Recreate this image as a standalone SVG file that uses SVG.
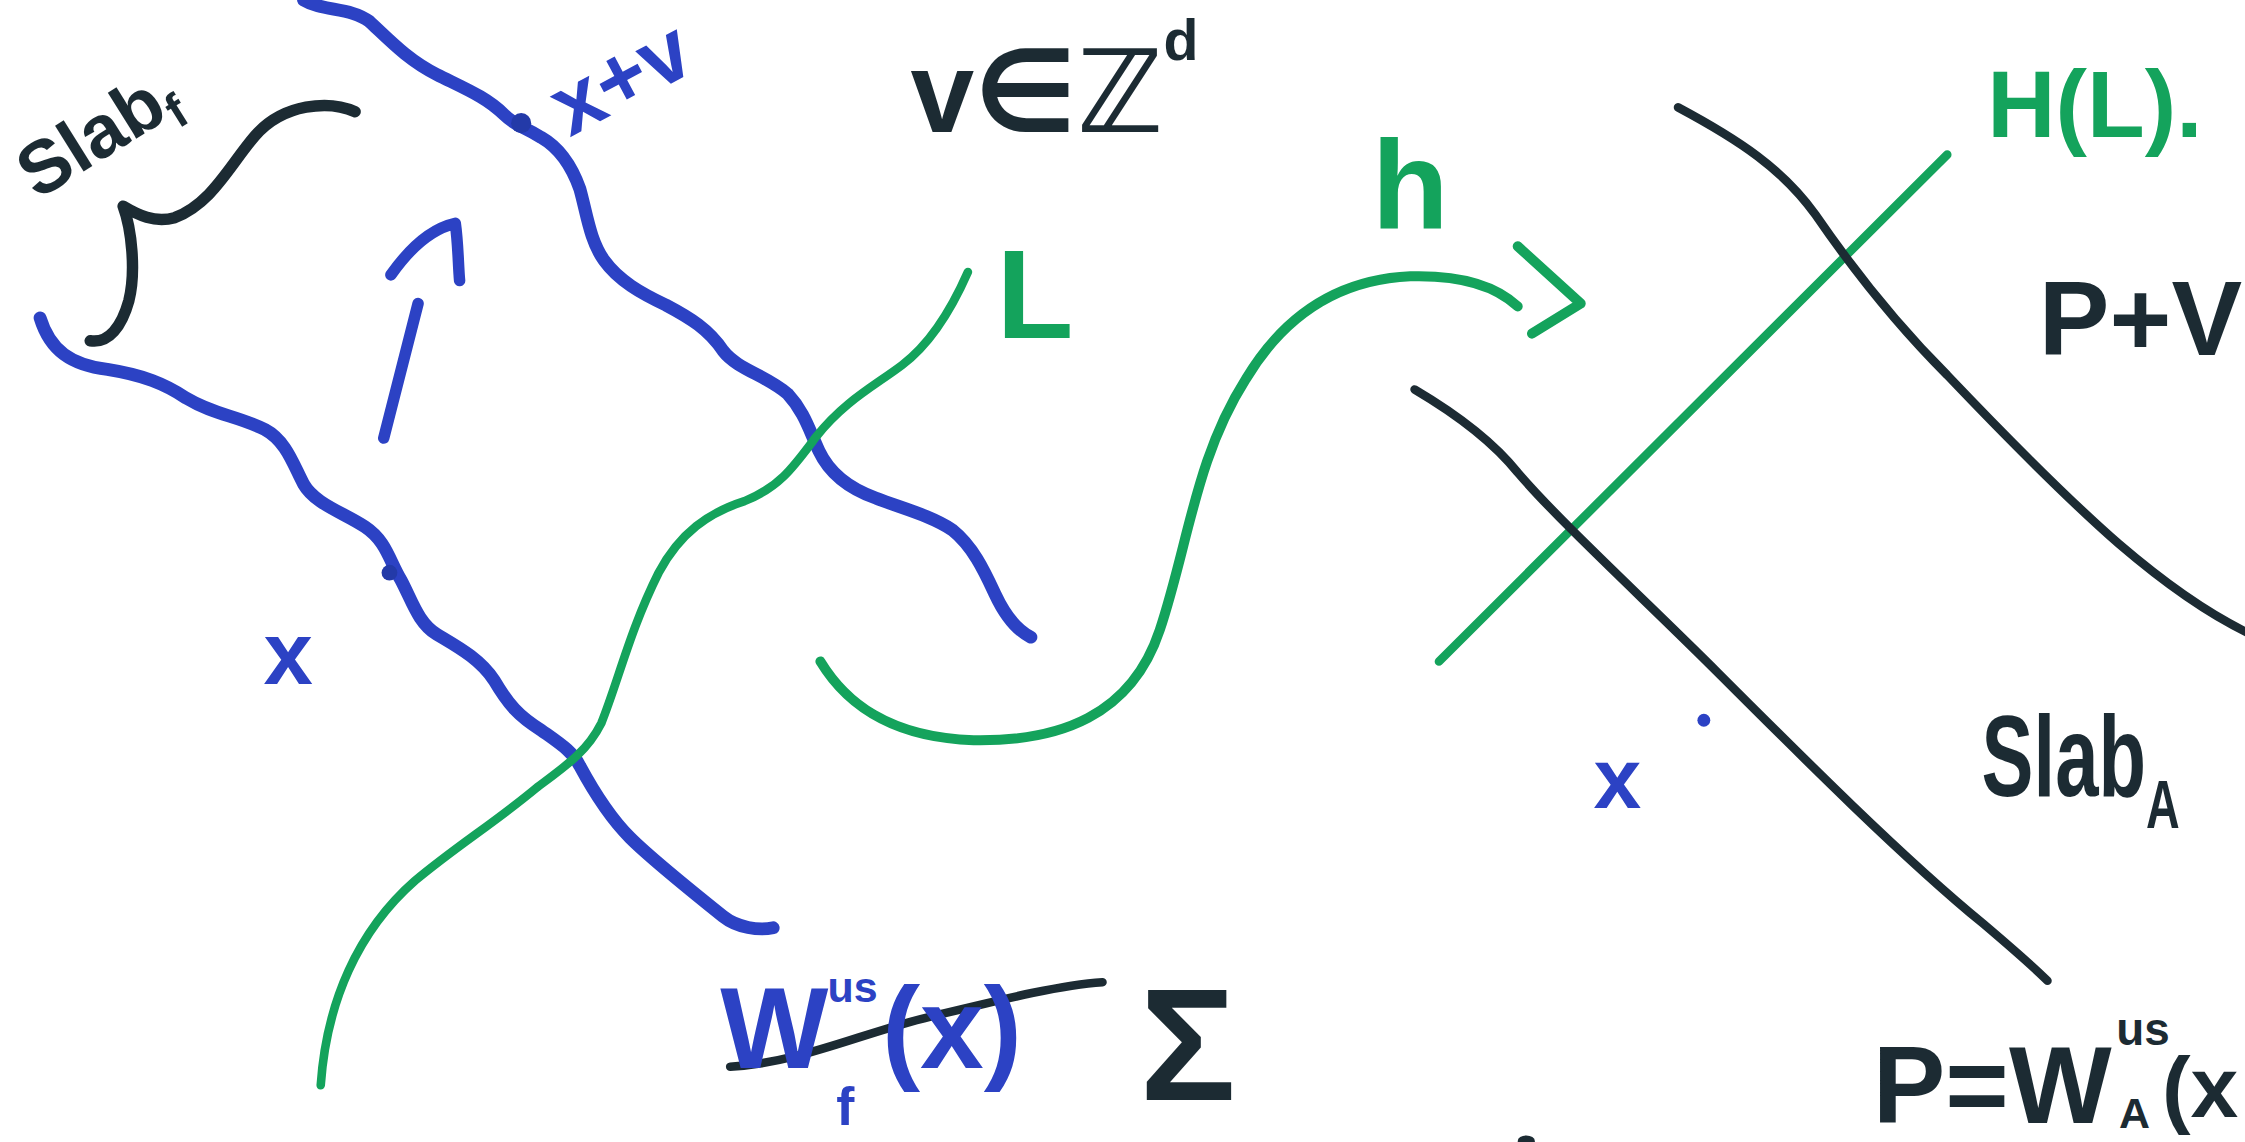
<svg xmlns="http://www.w3.org/2000/svg" width="2245" height="1142" viewBox="0 0 2245 1142">
<style>
.b{fill:none;stroke:#2c42c4;stroke-linecap:round;stroke-linejoin:round}
.g{fill:none;stroke:#14a35c;stroke-linecap:round;stroke-linejoin:round}
.k{fill:none;stroke:#1c2b33;stroke-linecap:round;stroke-linejoin:round}
text{font-family:"Liberation Sans","DejaVu Sans",sans-serif;font-weight:bold}
.tb{fill:#2c42c4}
.tg{fill:#14a35c}
.tk{fill:#1c2b33}
</style>
<rect width="2245" height="1142" fill="#ffffff"/>
<g transform="scale(1.4318)">
<g id="connectors">
<path id="wave-x" class="b" stroke-width="9" d="M28,222 C35,245 50,255 75,258 C100,262 115,268 130,278 C150,290 165,290 185,300 C200,308 205,325 212,338 C220,352 240,358 255,368 C270,378 272,392 280,405 C288,420 292,435 305,443 C320,452 335,460 345,475 C355,492 362,500 378,510 C392,520 400,525 405,535 C412,548 425,570 440,585 C455,600 480,620 505,640 C515,648 530,650 540,648"/>
<path id="wave-xv" class="b" stroke-width="9" d="M212,0 C225,8 245,5 258,15 C272,28 285,42 305,52 C325,62 340,68 352,80 C360,88 365,88 378,96 C392,104 400,118 405,132 C410,150 412,168 422,182 C432,196 448,205 465,213 C482,222 495,230 505,245 C515,258 535,262 550,275 C562,288 565,300 572,315 C580,332 595,342 612,348 C630,355 650,360 665,370 C680,382 688,400 695,415 C702,430 710,440 720,445"/>
<circle cx="364" cy="86" r="7" fill="#233aa8"/>
<circle cx="272" cy="400" r="5.5" fill="#233aa8"/>
<path id="arrow-v" class="b" stroke-width="8" d="M268,306 L292,212 M273,192 C285,175 300,160 318,156 C320,170 320,185 321,196"/>
<path id="brace" class="k" stroke-width="8" d="M248,78 C230,70 198,72 178,95 C160,116 148,142 122,152 C108,156 96,150 86,144 C92,160 95,190 90,210 C85,228 76,240 63,238"/>
<path id="curve-L" class="g" stroke-width="6" d="M224,758 C228,700 250,650 290,615 C320,590 345,575 375,550 C395,535 410,525 420,505 C432,475 440,440 460,400 C475,372 495,358 520,350 C545,340 555,325 570,305 C590,280 610,270 630,255 C650,240 665,215 676,190"/>
<path id="map-h" class="g" stroke-width="7" d="M573,462 C590,490 620,515 680,517 C740,518 790,500 810,440 C830,380 835,320 870,265 C900,215 940,195 985,193 C1020,192 1045,200 1060,214 M1060,172 L1104,212 L1070,233"/>
<path id="line-HL" class="g" stroke-width="6" d="M1005,462 L1360,108"/>
<path id="slab-top" class="k" stroke-width="6" d="M1172,75 C1215,98 1245,118 1268,150 C1290,182 1320,222 1360,262 C1400,304 1440,345 1480,380 C1515,410 1545,430 1570,442"/>
<path id="slab-bottom" class="k" stroke-width="6" d="M988,272 C1010,285 1040,305 1060,330 C1090,365 1150,420 1200,470 C1260,530 1330,600 1385,645 C1405,662 1420,675 1430,685"/>
<path id="strike" class="k" stroke-width="6" d="M510,745 C560,742 600,722 650,710 C700,698 740,688 770,686"/>
</g>
<g id="label-slabf">
<text class="tk" font-size="52" transform="translate(26,140) rotate(-32)">Slab<tspan font-size="34" dy="10">f</tspan></text>
</g>
<g id="label-xv">
<text class="tb" font-size="60" transform="translate(398,96) rotate(-28)">x+v</text>
</g>
<g id="label-x-left">
<text class="tb" font-size="62" x="184" y="478">x</text>
</g>
<g id="label-vZd">
<text class="tk" font-size="80" x="636" y="92">v∈ℤ<tspan font-size="40" dy="-50">d</tspan></text>
</g>
<g id="label-L">
<text class="tg" font-size="88" x="696" y="236">L</text>
</g>
<g id="label-h">
<text class="tg" font-size="88" x="958" y="160">h</text>
</g>
<g id="label-HL">
<text class="tg" font-size="66" x="1388" y="96">H(L).</text>
</g>
<g id="label-PV">
<text class="tk" font-size="74" x="1424" y="248">P+V</text>
</g>
<g id="label-slabA">
<text class="tk" font-size="80" transform="translate(1384,556) scale(0.68,1)">Slab<tspan font-size="48" dy="22">A</tspan></text>
</g>
<g id="point-x">
<circle cx="1190" cy="503" r="4.5" fill="#2c42c4"/>
<text class="tb" font-size="60" x="1113" y="564">x</text>
</g>
<g id="label-W">
<text class="tb" font-size="80" x="503" y="746">W</text>
<text class="tb" font-size="30" x="578" y="700">us</text>
<text class="tb" font-size="38" x="584" y="786">f</text>
<text class="tb" font-size="80" x="616" y="746">(x)</text>
</g>
<g id="label-sum">
<text class="tk" font-size="112" x="796" y="768">Σ</text>
</g>
<g id="label-P">
<text class="tk" font-size="76" x="1308" y="784">P=W</text>
<text class="tk" font-size="32" x="1478" y="730">us</text>
<text class="tk" font-size="30" x="1480" y="788">A</text>
<text class="tk" font-size="60" x="1510" y="780">(x</text>
</g>
<ellipse cx="1066" cy="797" rx="6" ry="4" fill="#1c2b33"/>
</g>
</svg>
